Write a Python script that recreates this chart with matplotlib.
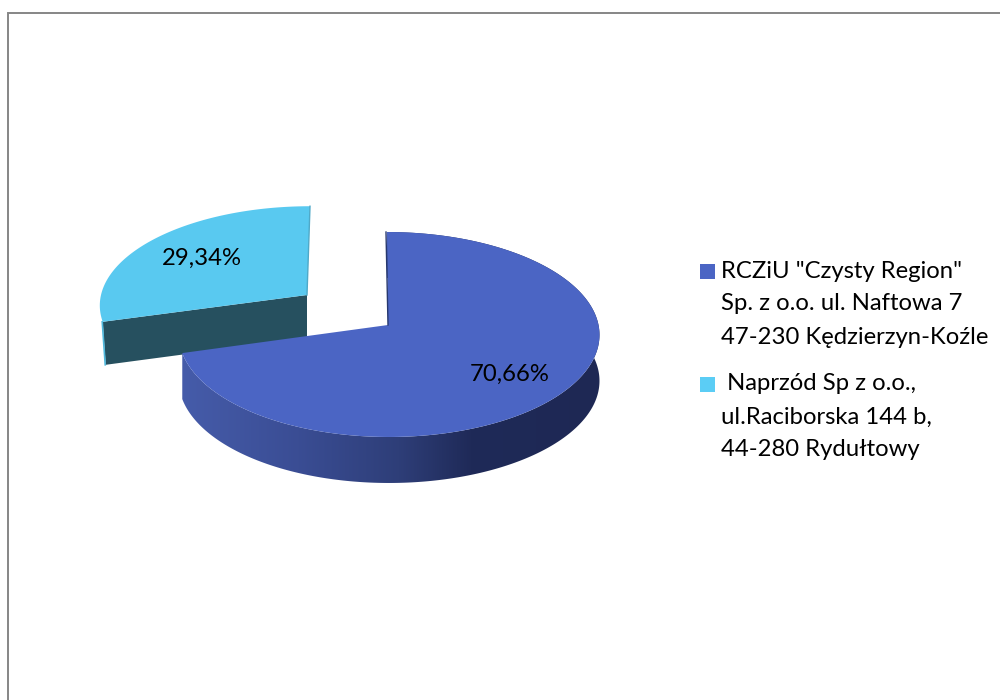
import numpy as np
import matplotlib
matplotlib.use('Agg')
import matplotlib.pyplot as plt
from matplotlib.colors import LinearSegmentedColormap
from matplotlib.patches import Polygon, Rectangle

# udzialy w procentach
shares = [70.66, 29.34]
legend_lines = [
    ['RCZiU "Czysty Region"', 'Sp. z o.o. ul. Naftowa 7', '47-230 Kędzierzyn-Koźle'],
    [' Naprzód Sp z o.o.,', 'ul.Raciborska 144 b,', '44-280 Rydułtowy'],
]

plt.rcParams['font.family'] = ['Lato', 'DejaVu Sans']
FS = 17.2
BLUE = '#4B65C4'
CYAN = '#59C9F0'
K = 0.0927


# kat liczony od godziny 12 zgodnie ze wskazowkami
def project(deg, ax0, ay0, rx, ry, lean=0.0, bulge=0.0):
    t = np.radians(deg)
    u, v = np.sin(t), np.cos(t)
    den = 1 + K * v
    return ax0 + rx * u / den + lean * v + bulge * u * u, ay0 - ry * v / den


fig = plt.figure(figsize=(10, 7), dpi=100)
ax = fig.add_axes([0, 0, 1, 1])

split = 360 * shares[0] / sum(shares)

# mniejszy wycinek (wysuniety)
sx = dict(ax0=307, ay0=295, rx=206, ry=97, lean=3)
a2 = np.linspace(split, 360, 120)
x2, y2 = project(a2, **sx)
cx, cy = x2[0], y2[0]
wall = [(cx, cy), (cx + 3, cy + 43), (sx['ax0'], sx['ay0'] + 43), (sx['ax0'], sx['ay0'])]
ax.add_patch(Polygon(wall, closed=True, fc='#26505F', ec='none', zorder=2))
ax.plot([cx - 0.5, cx + 2.5], [cy, cy + 43], color='#4FB8DC', lw=1.2, zorder=2)
ax.add_patch(Polygon(np.r_[np.c_[x2, y2], [[sx['ax0'], sx['ay0']]]], closed=True,
                     fc=CYAN, ec='none', zorder=3))
ax.plot([x2[-1], sx['ax0']], [y2[-1], sx['ay0']], color='#4FA9C8', lw=1, zorder=3)

# wiekszy wycinek
mx = dict(ax0=388, ay0=325, rx=209.5, ry=101.6, lean=-1, bulge=1)
a1 = np.linspace(0, split, 300)
x1, y1 = project(a1, **mx)
DEPTH = 46
outline = np.r_[np.c_[x1, y1], np.c_[x1, y1 + DEPTH][::-1]]
shade = LinearSegmentedColormap.from_list('wall', [
    (0.0, '#465CAA'), (0.28, '#3A4D94'), (0.52, '#2E3E78'), (0.69, '#1F2A58'), (1.0, '#1E2854')])
grad = ax.imshow(np.linspace(0, 1, 256)[None, :], extent=[x1.min() - 2, x1.max() + 2, 490, 220],
                 cmap=shade, aspect='auto', zorder=4)
grad.set_clip_path(Polygon(outline, closed=True, transform=ax.transData))
ax.add_patch(Polygon(np.r_[np.c_[x1, y1], [[mx['ax0'], mx['ay0']]]], closed=True,
                     fc=BLUE, ec='none', zorder=5))
ax.plot([x1[0] - 1, mx['ax0']], [y1[0], mx['ay0']], color='#27386E', lw=1, zorder=5)

# etykiety procentowe
ax.text(510, 374, f'{shares[0]:.2f}%'.replace('.', ','), fontsize=FS, ha='center', va='center', zorder=6)
ax.text(202, 258, f'{shares[1]:.2f}%'.replace('.', ','), fontsize=FS, ha='center', va='center', zorder=6)

# legenda
for lines, col, y0 in zip(legend_lines, [BLUE, '#5BCDF5'], [271, 384]):
    ax.add_patch(Rectangle((700, y0 - 7), 15, 15, fc=col, ec='none'))
    for i, line in enumerate(lines):
        ax.text(721, y0 + i * 33, line, fontsize=FS, ha='left', va='center')

# ramka
ax.plot([7.5, 7.5, 1000], [700, 12.5, 12.5], color='#868686', lw=1.4, solid_joinstyle='miter')

ax.set_xlim(0, 1000)
ax.set_ylim(700, 0)
ax.axis('off')
fig.savefig('out.png', dpi=100)
